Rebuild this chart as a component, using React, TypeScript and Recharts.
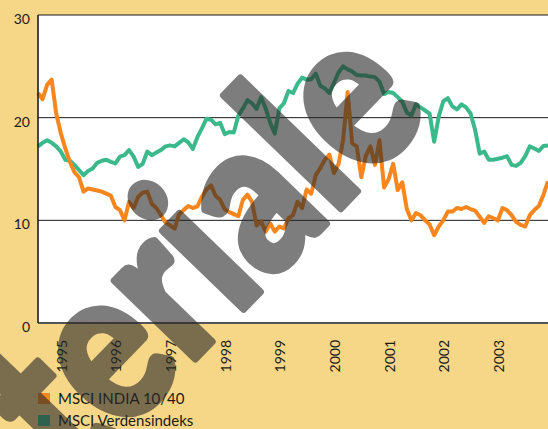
import { LineChart, Line, XAxis, YAxis, CartesianGrid } from 'recharts'

// monthly values, Aug 1994 - Dec 2003
const seriesNames = ['MSCI INDIA 10/40', 'MSCI Verdensindeks']
const seriesColors = ['#f7861f', '#3cb98a']

const india = [
  22.4, 21.8, 23.2, 23.7, 20.4, 18.5, 17.0, 15.7, 14.7, 14.2, 12.8, 13.1,
  13.0, 12.9, 12.8, 12.6, 12.4, 11.3, 11.0, 10.0, 11.8, 11.2, 12.3, 12.7,
  12.8, 11.6, 11.2, 10.5, 9.8, 9.5, 9.2, 10.6, 11.0, 11.4, 11.2, 11.35,
  12.3, 13.0, 13.4, 12.4, 12.0, 11.1, 10.8, 10.6, 10.4, 12.0, 12.5, 11.8,
  9.5, 9.9, 8.9, 9.7, 8.9, 9.4, 9.2, 10.2, 10.5, 11.8, 11.2, 13.0,
  12.6, 14.4, 15.1, 15.9, 16.4, 14.6, 15.5, 17.8, 22.5, 17.5, 17.2, 14.2,
  16.3, 17.2, 15.4, 17.8, 13.2, 14.0, 15.5, 12.95, 13.7, 11.1, 10.0, 10.7,
  10.5, 10.0, 9.6, 8.55, 9.4, 10.0, 10.85, 10.85, 11.2, 11.1, 11.3, 11.1,
  10.95, 10.35, 9.75, 10.4, 10.2, 10.0, 11.2, 11.0, 10.5, 9.85, 9.55, 9.4,
  10.5, 11.0, 11.4, 12.5, 13.8,
]

const world = [
  17.2, 17.55, 17.8, 17.55, 17.2, 16.7, 15.9, 15.8, 15.4, 14.9, 14.4, 14.8,
  15.05, 15.6, 15.8, 15.9, 15.7, 15.55, 16.2, 16.35, 16.85, 16.2, 15.2, 15.5,
  16.7, 16.35, 16.6, 16.85, 17.2, 17.3, 17.2, 17.55, 17.9, 17.6, 16.95, 18.1,
  18.95, 19.9, 19.8, 19.35, 19.5, 18.4, 18.6, 18.55, 20.2, 20.9, 21.7, 21.4,
  20.85, 22.0, 20.9, 19.5, 18.45, 20.9, 21.4, 22.6, 22.4, 23.3, 23.9, 23.7,
  23.75, 24.3, 23.1, 22.85, 22.4, 23.4, 24.4, 25.0, 24.7, 24.5, 24.15, 24.1,
  24.1, 24.0, 23.95, 23.5, 22.3, 22.5, 22.4, 22.0, 21.55, 20.5, 20.2, 21.3,
  21.0, 20.7, 20.4, 17.65, 20.1, 21.6, 21.9, 21.1, 20.8, 21.3, 21.0, 20.4,
  18.8, 16.5, 16.7, 15.9, 15.9, 16.0, 16.1, 16.25, 15.4, 15.3, 15.6, 16.25,
  17.2, 17.0, 16.75, 17.25, 17.3,
]

const yTicks = [0, 10, 20, 30]
const firstYear = 1994
const firstMonth = 8

const data = india.map((v, i) => {
  const m = firstMonth - 1 + i
  return {
    t: i,
    year: firstYear + Math.floor(m / 12),
    month: (m % 12) + 1,
    india: v,
    world: world[i],
  }
})
const janTicks = data.filter((d) => d.month === 1).map((d) => d.t)
const yearOf = (t: number) => data[t]?.year

const font = 'Lato, "Open Sans", sans-serif'

function YTick({ x, y, payload }: any) {
  return (
    <text x={x} y={y} dy={9} textAnchor="end" fontSize={14} fill="#1a1a1a" fontFamily={font}>
      {payload.value}
    </text>
  )
}

function XTick({ x, y, payload }: any) {
  return (
    <g transform={`translate(${x + 1},${y})`}>
      <text x={-17} y={0} dy="0.36em" transform="rotate(-90)" textAnchor="end" fontSize={14} fill="#1a1a1a" fontFamily={font}>
        {yearOf(payload.value)}
      </text>
    </g>
  )
}

export default function App() {
  return (
    <div style={{ position: 'absolute', left: 0, top: 0, width: 548, height: 429, background: '#f6d687', overflow: 'hidden' }}>
      <LineChart width={548} height={429} data={data} margin={{ top: 15, right: 0, left: 0, bottom: 0 }}>
        <CartesianGrid vertical={false} stroke="#1a1a1a" strokeWidth={1} fill="#ffffff" fillOpacity={1} />
        <XAxis
          dataKey="t"
          type="number"
          domain={[0, india.length - 1]}
          ticks={janTicks}
          tick={<XTick />}
          height={106}
          tickSize={0}
          tickMargin={0}
          tickLine={false}
          axisLine={{ stroke: '#555', strokeWidth: 2 }}
          interval={0}
        />
        <YAxis
          domain={[0, 30]}
          ticks={yTicks}
          width={38}
          tick={<YTick />}
          tickSize={0}
          tickMargin={8}
          tickLine={false}
          axisLine={{ stroke: '#111', strokeWidth: 1.5 }}
          interval={0}
        />
        <Line dataKey="world" type="linear" stroke={seriesColors[1]} strokeWidth={4} dot={false} isAnimationActive={false} strokeLinejoin="round" />
        <Line dataKey="india" type="linear" stroke={seriesColors[0]} strokeWidth={4} dot={false} isAnimationActive={false} strokeLinejoin="round" />
      </LineChart>

      <div style={{ position: 'absolute', left: 38, top: 387, fontFamily: font, fontSize: 15, color: '#1a1a1a' }}>
        {seriesNames.map((name, i) => (
          <div key={name} style={{ display: 'flex', alignItems: 'center', height: 22 }}>
            <span style={{ width: 12, height: 11, background: seriesColors[i], marginRight: 8 }} />
            <span>{name}</span>
          </div>
        ))}
      </div>

      <svg width={548} height={429} style={{ position: 'absolute', left: 0, top: 0, pointerEvents: 'none' }}>
        <g opacity={0.6} transform="translate(433 113) rotate(-46) scale(1 1.2)">
          <text
            x={0}
            y={0}
            textAnchor="end"
            fontFamily={font}
            fontWeight={900}
            fontSize={182}
            fill="#282828"
            stroke="#282828"
            strokeWidth={6}
            strokeLinejoin="round"
          >
            teriale
          </text>
        </g>
      </svg>
    </div>
  )
}
